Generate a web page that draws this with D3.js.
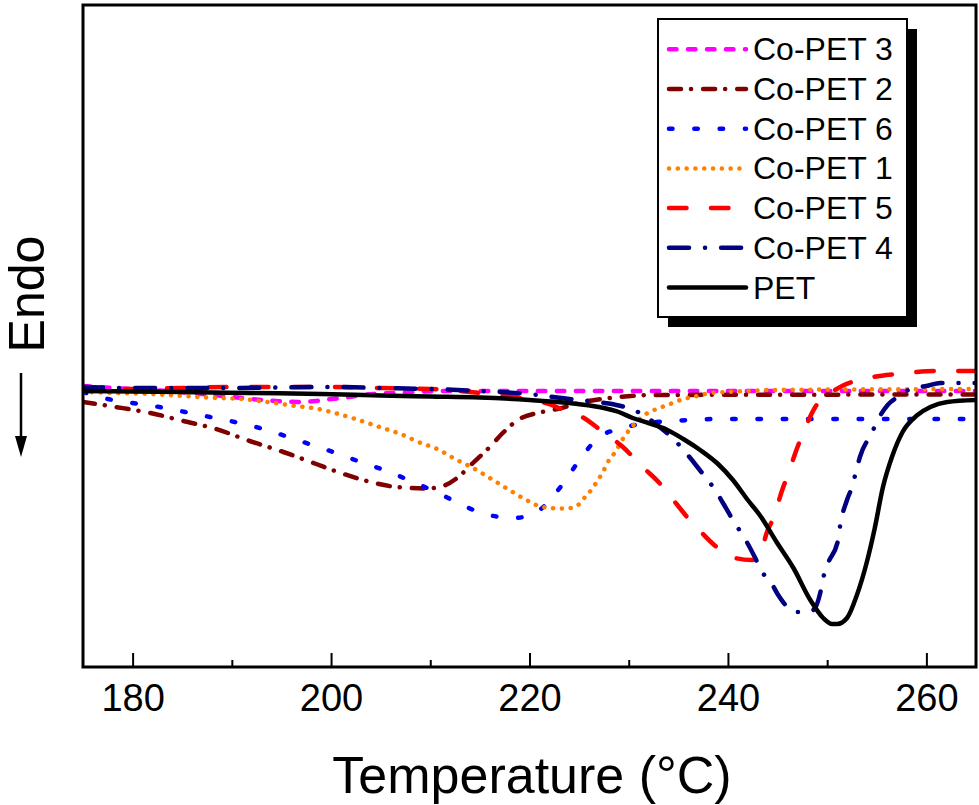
<!DOCTYPE html>
<html>
<head>
<meta charset="utf-8">
<script src="https://cdn.jsdelivr.net/npm/d3@7"></script>
<style>
  html, body { margin: 0; padding: 0; background: #fff; }
  svg { display: block; font-family: "Liberation Sans", Arial, sans-serif; }
</style>
</head>
<body>
<svg id="chart" width="979" height="805"></svg>
<script>
// ---------------- DATA (temperature in °C, heat flow in arbitrary units) ----------------
const xTicksMajor = [180, 200, 220, 240, 260];
const xTicksMinor = [190, 210, 230, 250];
const xLabel = "Temperature (°C)";
const yLabel = "Endo";

const seriesNames = ["Co-PET 3", "Co-PET 2", "Co-PET 6", "Co-PET 1", "Co-PET 5", "Co-PET 4", "PET"];

const copet3_T = [175, 178, 182, 186, 190, 194.4, 196.7, 198.5, 200, 201, 204.2, 206.6, 211, 265];
const copet3_V = [0.4, 0.2, 0, -0.3, -0.7, -1.1, -1.2, -1.1, -0.9, -0.8, -0.4, -0.3, -0.1, -0.1];

const copet2_T = [175, 178.3, 181.8, 185.1, 188.4, 191.8, 195.2, 198.5, 200.7, 202.9, 206.6, 209.7, 211.3, 212.7, 214.3, 216, 217.3, 219, 220.8, 222.8, 225.4, 229.1, 232.4, 265];
const copet2_V = [-1.2, -1.7, -2.3, -3.1, -3.9, -5.1, -6.2, -7.4, -8.2, -8.9, -9.7, -9.85, -9.6, -8.8, -7.3, -5.7, -4.3, -2.9, -2.3, -1.9, -1.2, -0.7, -0.5, -0.45];

const copet6_T = [175, 177.5, 180, 182.7, 185.3, 187.8, 190.3, 192.8, 195.4, 197.8, 200.2, 202.7, 205.6, 208.5, 211, 213.4, 215.9, 218.5, 221, 223.2, 224.9, 226.9, 229.4, 231.9, 234.5, 239, 265];
const copet6_V = [-0.2, -0.9, -1.3, -1.7, -2.2, -2.7, -3.2, -3.8, -4.6, -5.4, -6.2, -7.1, -8.1, -9.3, -10.4, -11.6, -12.5, -12.8, -12.0, -9.6, -7.2, -4.8, -3.8, -3.3, -3.1, -2.9, -2.9];

const copet1_T = [175, 178.3, 181.8, 185.1, 188.4, 191.1, 192.8, 194.4, 196.4, 198.2, 200, 201.8, 203.4, 205.2, 207, 208.8, 210.7, 212.5, 214.3, 216, 217.8, 219.5, 221.3, 223.1, 224.1, 224.9, 225.6, 226.3, 226.9, 227.4, 227.9, 228.5, 229.6, 230.3, 231.1, 231.9, 232.8, 233.9, 234.7, 235.5, 236.5, 238.2, 239.9, 241.9, 244.2, 265];
const copet1_V = [-0.2, -0.3, -0.4, -0.6, -0.8, -0.9, -1.1, -1.3, -1.6, -1.8, -2.2, -2.7, -3.2, -3.8, -4.4, -5.2, -5.9, -6.9, -7.8, -8.8, -9.9, -10.9, -11.7, -11.85, -11.8, -11.5, -10.7, -9.9, -9.0, -8.2, -7.2, -6.4, -4.6, -3.7, -2.9, -2.3, -1.9, -1.5, -1.2, -0.9, -0.7, -0.3, -0.2, -0.1, 0, 0.1];

const copet5_T = [175, 180, 185, 190, 200, 205, 210, 212, 215, 218, 220, 222, 223.4, 225.3, 227.4, 229.3, 231.4, 233, 234.9, 236.4, 236.9, 238.4, 239.5, 240.7, 242.4, 243.2, 243.9, 244.7, 245.4, 246.1, 246.9, 247.7, 248.8, 250.5, 251.5, 252.8, 254.6, 256.9, 259, 261.2, 265];
const copet5_V = [0.2, 0.1, 0.2, 0.3, 0.3, 0.2, 0.1, 0, -0.3, -0.6, -1.0, -1.4, -2.0, -2.7, -4.2, -5.6, -7.7, -9.2, -11.5, -13.3, -13.8, -15.3, -16.2, -16.8, -17.0, -16.6, -14.3, -12.5, -10.2, -8.3, -6.0, -4.0, -1.7, -0.2, 0.4, 0.9, 1.3, 1.6, 1.8, 1.9, 1.9];

const copet4_T = [175, 180, 190, 200, 205, 210, 215, 220, 224, 226, 227.6, 229.9, 231.5, 232.6, 234.9, 236.2, 237, 238.7, 239.5, 240.5, 241.9, 242.7, 243.5, 244.2, 245, 246.1, 247, 247.9, 248.6, 249.3, 249.6, 250.1, 251.1, 251.3, 252, 252.5, 252.9, 253.3, 254.5, 255.1, 256.1, 257.3, 258.6, 260, 261.4, 265];
const copet4_V = [0.3, 0.2, 0.2, 0.3, 0.2, 0.1, -0.1, -0.4, -0.9, -1.1, -1.3, -1.8, -2.5, -3.3, -5.3, -6.8, -7.8, -10.0, -11.3, -13.0, -15.2, -16.7, -18.3, -19.0, -20.4, -21.8, -22.2, -22.2, -22.0, -20.3, -18.8, -17.3, -15.0, -13.6, -11.0, -9.7, -8.2, -6.7, -4.3, -3.0, -1.5, -0.6, 0.2, 0.4, 0.7, 0.7];

const pet_T = [175, 185, 192, 199, 205, 210, 215, 220, 224, 227, 229, 230.4, 232, 233.9, 235.5, 237.2, 239, 240.5, 242, 243.2, 244.9, 246.6, 248.3, 249.6, 250.5, 251, 252, 253, 254, 254.8, 255.6, 256.6, 257.6, 259.1, 260.4, 262.1, 265];
const pet_V = [-0.1, -0.2, -0.3, -0.4, -0.55, -0.65, -0.75, -1.0, -1.3, -1.7, -2.2, -2.8, -3.3, -4.0, -4.9, -6.0, -7.4, -9.0, -11.0, -12.5, -15.2, -17.8, -21.0, -22.8, -23.4, -23.4, -22.8, -20.5, -17.2, -13.8, -9.8, -6.5, -4.2, -2.5, -1.7, -1.2, -1.0];

// ---------------- STYLES ----------------
const styles = {
  "Co-PET 3": { color: "#FF00FF", dash: "7.5,11.5" },
  "Co-PET 2": { color: "#800000", dash: "12,10,0.1,12" },
  "Co-PET 6": { color: "#0000FF", dash: "3.5,21.8" },
  "Co-PET 1": { color: "#FF8000", dash: "0.1,8.7" },
  "Co-PET 5": { color: "#FF0000", dash: "17.5,24.5" },
  "Co-PET 4": { color: "#000080", dash: "20,16,0.1,16" },
  "PET":      { color: "#000000", dash: null }
};

const seriesData = {
  "Co-PET 3": [copet3_T, copet3_V],
  "Co-PET 2": [copet2_T, copet2_V],
  "Co-PET 6": [copet6_T, copet6_V],
  "Co-PET 1": [copet1_T, copet1_V],
  "Co-PET 5": [copet5_T, copet5_V],
  "Co-PET 4": [copet4_T, copet4_V],
  "PET":      [pet_T, pet_V]
};

// ---------------- LAYOUT ----------------
const L = 83, R = 976, T = 5, B = 667;
const svg = d3.select("#chart");

const x = d3.scaleLinear().domain([175, 265]).range([L, R]);
const y = d3.scaleLinear().domain([-27.7, 38.5]).range([B, T]);

svg.append("defs").append("clipPath").attr("id", "plotclip")
  .append("rect").attr("x", L).attr("y", T).attr("width", R - L).attr("height", B - T);

const line = d3.line()
  .x(d => x(d[0]))
  .y(d => y(d[1]))
  .curve(d3.curveMonotoneX);

const gLines = svg.append("g").attr("clip-path", "url(#plotclip)");
seriesNames.forEach(name => {
  const [ts, vs] = seriesData[name];
  const pts = ts.map((t, i) => [t, vs[i]]);
  const st = styles[name];
  gLines.append("path")
    .datum(pts)
    .attr("d", line)
    .attr("fill", "none")
    .attr("stroke", st.color)
    .attr("stroke-width", 4.5)
    .attr("stroke-linecap", "round")
    .attr("stroke-linejoin", "round")
    .attr("stroke-dasharray", st.dash);
});

// ---------------- AXES ----------------
const axMajor = d3.axisBottom(x).tickValues(xTicksMajor).tickSize(-14).tickPadding(17).tickFormat(d3.format("d"));
const gx = svg.append("g").attr("transform", `translate(0,${B})`).call(axMajor);
gx.select(".domain").remove();
gx.selectAll(".tick line").attr("stroke", "#000").attr("stroke-width", 2);
gx.selectAll(".tick text").attr("font-size", 38).attr("fill", "#000")
  .attr("font-family", "'Liberation Sans', Arial, sans-serif");

const axMinor = d3.axisBottom(x).tickValues(xTicksMinor).tickSize(-7).tickFormat("");
const gxm = svg.append("g").attr("transform", `translate(0,${B})`).call(axMinor);
gxm.select(".domain").remove();
gxm.selectAll(".tick line").attr("stroke", "#000").attr("stroke-width", 2);

// Frame
svg.append("rect")
  .attr("x", L).attr("y", T).attr("width", R - L).attr("height", B - T)
  .attr("fill", "none").attr("stroke", "#000").attr("stroke-width", 3);

// X label
svg.append("text")
  .attr("x", 532).attr("y", 793)
  .attr("text-anchor", "middle")
  .attr("font-size", 52)
  .attr("fill", "#000")
  .text(xLabel);

// Y label "Endo" with downward arrow
svg.append("text")
  .attr("transform", "translate(44,294) rotate(-90)")
  .attr("text-anchor", "middle")
  .attr("font-size", 50)
  .attr("fill", "#000")
  .text(yLabel);
svg.append("line")
  .attr("x1", 21).attr("x2", 21).attr("y1", 373).attr("y2", 442)
  .attr("stroke", "#000").attr("stroke-width", 2.5);
svg.append("path")
  .attr("d", "M15,436 L27,436 L21,457 Z")
  .attr("fill", "#000");

// ---------------- LEGEND ----------------
const lgX = 658, lgY = 19, lgW = 249, lgH = 298;
const gLeg = svg.append("g");
gLeg.append("rect").attr("x", lgX + 10).attr("y", lgY + 10).attr("width", lgW).attr("height", lgH).attr("fill", "#000");
gLeg.append("rect").attr("x", lgX).attr("y", lgY).attr("width", lgW).attr("height", lgH)
  .attr("fill", "#fff").attr("stroke", "#000").attr("stroke-width", 2);

seriesNames.forEach((name, i) => {
  const cy = 49.3 + i * 39.7;
  const st = styles[name];
  gLeg.append("line")
    .attr("x1", 669).attr("x2", 746).attr("y1", cy).attr("y2", cy)
    .attr("stroke", st.color)
    .attr("stroke-width", 4.5)
    .attr("stroke-linecap", "round")
    .attr("stroke-dasharray", st.dash);
  gLeg.append("text")
    .attr("x", 753).attr("y", cy + 11)
    .attr("font-size", 32)
    .attr("fill", "#000")
    .text(name);
});
</script>
</body>
</html>
